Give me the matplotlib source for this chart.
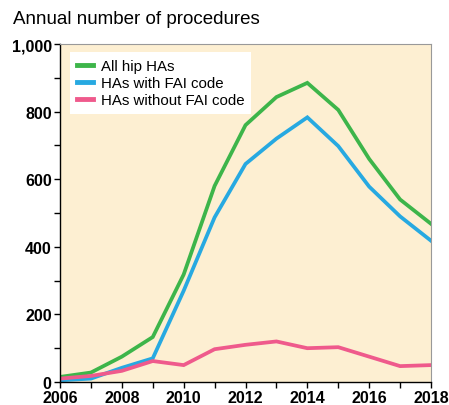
import matplotlib
matplotlib.use("Agg")
import matplotlib.pyplot as plt
from matplotlib.ticker import MultipleLocator, FuncFormatter

years = list(range(2006, 2019))
all_hip = [15, 28, 75, 133, 318, 580, 760, 843, 885, 805, 660, 540, 468]
with_fai = [5, 10, 42, 70, 270, 487, 645, 720, 783, 698, 578, 490, 418]
without_fai = [10, 18, 33, 62, 50, 97, 110, 120, 100, 103, 75, 47, 50]
labels = ["All hip HAs", "HAs with FAI code", "HAs without FAI code"]
colors = ["#3DB54A", "#27A9E1", "#EF5A8C"]

plt.rcParams['font.family'] = ['Liberation Sans', 'DejaVu Sans']
fig = plt.figure(figsize=(4.49, 4.06), dpi=100)
ax = fig.add_axes([60/449, 1-383/406, (431-60)/449, (383-45)/406])
ax.set_facecolor("#FDEFD2")

for ys, c, l in zip([all_hip, with_fai, without_fai], colors, labels):
    ax.plot(years, ys, color=c, lw=2.7, label=l, solid_joinstyle='miter')

ax.set_xlim(2006, 2018)
ax.set_ylim(0, 1000)
ax.xaxis.set_major_locator(MultipleLocator(2))
ax.xaxis.set_minor_locator(MultipleLocator(1))
ax.yaxis.set_major_locator(MultipleLocator(200))
ax.yaxis.set_minor_locator(MultipleLocator(100))
ax.yaxis.set_major_formatter(FuncFormatter(lambda v, p: f"{int(v):,}"))
ax.tick_params(which='both', direction='out', length=4, width=1, color='black', pad=2)
ax.tick_params(labelsize=11.5)
for lab in ax.get_xticklabels() + ax.get_yticklabels():
    lab.set_fontweight('bold')
for s in ['top', 'right']:
    ax.spines[s].set_color('#999999')
    ax.spines[s].set_linewidth(0.8)
for s in ['left', 'bottom']:
    ax.spines[s].set_color('black')
    ax.spines[s].set_linewidth(1)

leg = ax.legend(loc='upper left', bbox_to_anchor=(0.027, 0.976), frameon=True,
                fancybox=False, edgecolor='none', facecolor='white', framealpha=1,
                fontsize=10.8, handlelength=1.1, handletextpad=0.5, labelspacing=0.2,
                borderpad=0.45, borderaxespad=0)
for line in leg.get_lines():
    line.set_linewidth(3.5)

fig.text(13/449, 1-20/406, "Annual number of procedures", fontsize=13.5, va='center', ha='left')
fig.savefig("out.png", dpi=100)
